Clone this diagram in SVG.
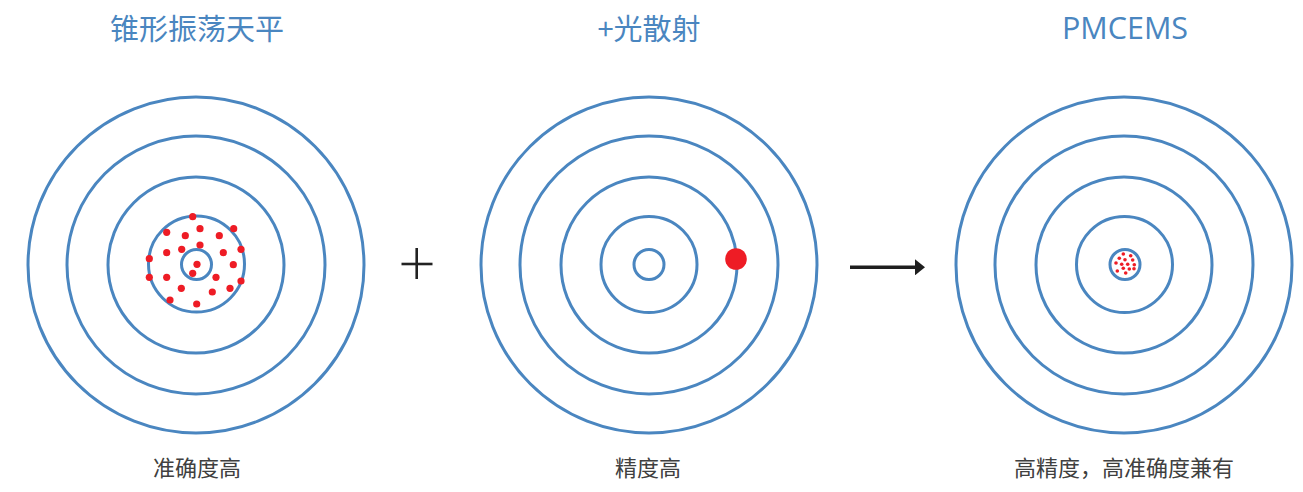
<svg xmlns="http://www.w3.org/2000/svg" width="1303" height="492" viewBox="0 0 1303 492">
<style>
.ring{fill:none;stroke:#4a86c0;stroke-width:3}
.dot{fill:#ee1c25}
.title{font-family:"Noto Sans CJK SC","Open Sans",sans-serif;font-size:29px;fill:#4a86c0;text-anchor:middle}
.en{font-family:"Open Sans","Noto Sans",sans-serif;font-size:30.5px;fill:#4a86c0;text-anchor:middle}
.cap{font-family:"Noto Sans CJK SC",sans-serif;font-size:22px;fill:#404040;text-anchor:middle}
</style>
<defs>
<marker id="ah" viewBox="0 0 10 10" refX="0" refY="5" markerWidth="10" markerHeight="16" markerUnits="userSpaceOnUse" orient="auto" preserveAspectRatio="none">
<path d="M0,0 L10,5 L0,10 Z" fill="#1f1f1f"/>
</marker>
</defs>
<rect width="1303" height="492" fill="#ffffff"/>

<g id="target-left">
<circle class="ring" cx="196" cy="265" r="168"/>
<circle class="ring" cx="196" cy="265" r="129"/>
<circle class="ring" cx="196" cy="265" r="88"/>
<circle class="ring" cx="196.5" cy="264" r="48"/>
<circle class="ring" cx="196.5" cy="264.5" r="15"/>
<g class="dot">
<circle cx="192.7" cy="216.7" r="3.6"/>
<circle cx="166.7" cy="232.3" r="3.6"/>
<circle cx="200" cy="228.7" r="3.6"/>
<circle cx="233.7" cy="228.7" r="3.6"/>
<circle cx="185.3" cy="235.7" r="3.6"/>
<circle cx="219.3" cy="235.7" r="3.6"/>
<circle cx="181.7" cy="249.3" r="3.6"/>
<circle cx="200" cy="245" r="3.6"/>
<circle cx="241" cy="249.3" r="3.6"/>
<circle cx="166.7" cy="252.7" r="3.6"/>
<circle cx="223.3" cy="252.7" r="3.6"/>
<circle cx="149.3" cy="258.7" r="3.6"/>
<circle cx="233.3" cy="264.7" r="3.6"/>
<circle cx="197" cy="264.3" r="3.6"/>
<circle cx="192.7" cy="273.3" r="3.6"/>
<circle cx="149.3" cy="277.3" r="3.6"/>
<circle cx="166.7" cy="277.3" r="3.6"/>
<circle cx="216" cy="277.3" r="3.6"/>
<circle cx="241" cy="281" r="3.6"/>
<circle cx="181.3" cy="288.3" r="3.6"/>
<circle cx="212.3" cy="292" r="3.6"/>
<circle cx="230" cy="288.3" r="3.6"/>
<circle cx="170" cy="300" r="3.6"/>
<circle cx="196.7" cy="304" r="3.6"/>
</g>
<text class="title" x="197" y="40">锥形振荡天平</text>
<text class="cap" x="197" y="476">准确度高</text>
</g>

<g id="target-middle">
<circle class="ring" cx="649" cy="265" r="168"/>
<circle class="ring" cx="649" cy="265" r="129"/>
<circle class="ring" cx="649" cy="265" r="88"/>
<circle class="ring" cx="649" cy="264.5" r="48"/>
<circle class="ring" cx="649" cy="264.5" r="15"/>
<circle class="dot" cx="736" cy="259" r="10.8"/>
<text class="title" x="649" y="40">+光散射</text>
<text class="cap" x="648" y="476">精度高</text>
</g>

<g id="target-right">
<circle class="ring" cx="1124" cy="265" r="168"/>
<circle class="ring" cx="1124" cy="265" r="129"/>
<circle class="ring" cx="1124" cy="265" r="88"/>
<circle class="ring" cx="1124.5" cy="264.5" r="48"/>
<circle class="ring" cx="1125" cy="264.5" r="15"/>
<g class="dot">
<circle cx="1123.3" cy="254" r="1.8"/>
<circle cx="1119.3" cy="258.3" r="1.8"/>
<circle cx="1130.7" cy="255.7" r="1.8"/>
<circle cx="1125" cy="259.7" r="1.8"/>
<circle cx="1132.7" cy="260" r="1.8"/>
<circle cx="1116" cy="263" r="1.8"/>
<circle cx="1121.7" cy="264.3" r="1.8"/>
<circle cx="1127.7" cy="264.3" r="1.8"/>
<circle cx="1134.3" cy="264.7" r="1.8"/>
<circle cx="1123.3" cy="268.3" r="1.8"/>
<circle cx="1129.3" cy="269" r="1.8"/>
<circle cx="1134" cy="268.7" r="1.8"/>
<circle cx="1117.3" cy="271" r="1.8"/>
<circle cx="1125.7" cy="273" r="1.8"/>
</g>
<text class="en" x="1125" y="39">PMCEMS</text>
<text class="cap" x="1124" y="476">高精度，高准确度兼有</text>
</g>

<g id="connectors">
<g id="plus" stroke="#222222" stroke-width="2.6">
<line x1="416.7" y1="248" x2="416.7" y2="279"/>
<line x1="401.5" y1="264" x2="432.5" y2="264"/>
</g>
<line id="arrow" x1="850" y1="267.3" x2="915" y2="267.3" stroke="#1f1f1f" stroke-width="3.6" marker-end="url(#ah)"/>
</g>
</svg>
